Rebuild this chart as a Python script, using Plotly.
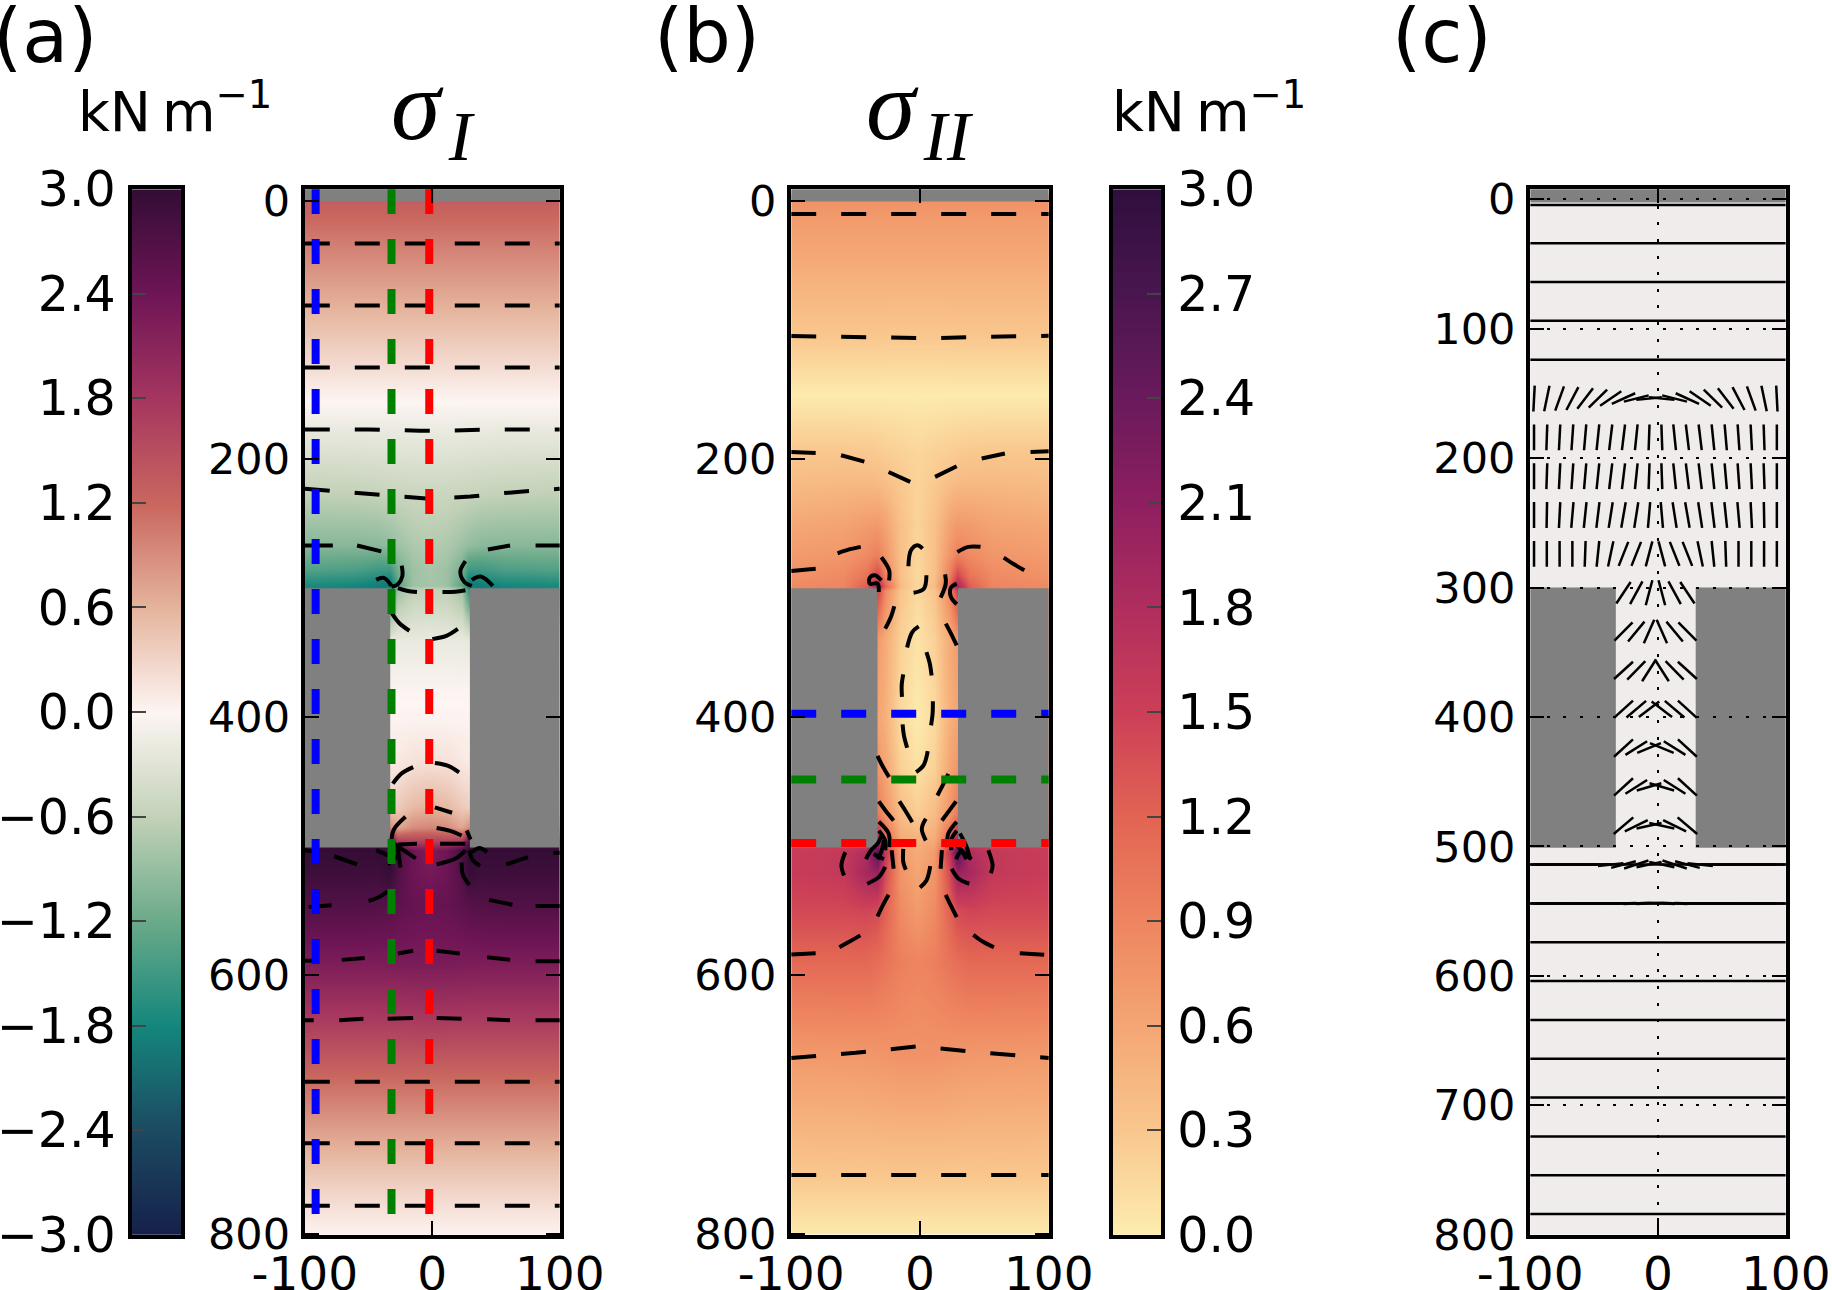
import math
import plotly.graph_objects as go

W, H = 1832, 1290

# ---------- colour scales ----------
curl_levels = [-3.0, -2.4, -1.8, -1.2, -0.6, 0.0, 0.6, 1.2, 1.8, 2.4, 3.0]
curl_colors = ["#16204a", "#1c4a62", "#14877c", "#6aaa8a", "#c3d2b8", "#fdf5f3",
               "#e5b49d", "#c9675f", "#a5365f", "#6f1556", "#340d35"]
matter_levels = [0.0, 0.3, 0.6, 0.9, 1.2, 1.5, 1.8, 2.1, 2.4, 2.7, 3.0]
matter_colors = ["#fdedb0", "#f9c78e", "#f4a673", "#ee8560", "#e26453", "#cc3f57",
                 "#b02e5e", "#8e1f60", "#6a1a5c", "#4a1650", "#2f0f3d"]

# ---------- field samples (half-rows, left wall to the slot centre) ----------
x_half = [-100, -60, -42, -33, -27, -15, -2]
x_other = [11, 23, 29, 38, 56, 100]

sigma1_y = [0, 33, 81, 129, 155, 177, 225, 267, 285, 298, 301, 340, 380, 400, 435, 470,
            485, 497, 503, 520, 545, 590, 635, 682, 730, 778, 800]
sigma1_half = [
    [1.30, 1.30, 1.30, 1.30, 1.30, 1.30, 1.30],
    [1.02, 1.02, 1.02, 1.02, 1.02, 1.02, 1.02],
    [0.62, 0.62, 0.62, 0.62, 0.62, 0.62, 0.62],
    [0.22, 0.22, 0.22, 0.22, 0.22, 0.22, 0.22],
    [0.00, 0.00, 0.00, 0.00, 0.00, 0.00, 0.00],
    [-0.20, -0.20, -0.19, -0.19, -0.18, -0.18, -0.18],
    [-0.60, -0.58, -0.56, -0.54, -0.53, -0.52, -0.52],
    [-1.00, -1.00, -0.98, -0.92, -0.85, -0.74, -0.70],
    [-1.35, -1.40, -1.50, -1.50, -1.10, -0.85, -0.78],
    [-1.75, -1.80, -1.90, -2.00, -1.30, -0.85, -0.80],
    [-1.75, -1.80, -1.90, -1.60, -0.85, -0.62, -0.60],
    [-0.20, -0.20, -0.20, -0.22, -0.20, -0.20, -0.20],
    [-0.02, -0.02, -0.02, -0.02, -0.02, -0.02, -0.02],
    [0.02, 0.02, 0.02, 0.02, 0.02, 0.02, 0.02],
    [0.10, 0.10, 0.10, 0.10, 0.12, 0.18, 0.20],
    [0.40, 0.40, 0.40, 0.35, 0.40, 0.55, 0.60],
    [1.00, 1.00, 1.00, 0.90, 0.70, 0.90, 0.95],
    [2.80, 2.80, 2.80, 2.80, 1.80, 1.70, 1.70],
    [3.00, 3.00, 3.00, 3.00, 2.80, 2.40, 2.25],
    [2.90, 2.90, 2.90, 3.00, 2.70, 2.42, 2.32],
    [2.70, 2.70, 2.68, 2.65, 2.58, 2.50, 2.47],
    [2.25, 2.25, 2.25, 2.26, 2.27, 2.28, 2.28],
    [1.72, 1.72, 1.72, 1.72, 1.72, 1.73, 1.73],
    [1.15, 1.15, 1.15, 1.15, 1.15, 1.15, 1.15],
    [0.65, 0.65, 0.65, 0.65, 0.65, 0.65, 0.65],
    [0.20, 0.20, 0.20, 0.20, 0.20, 0.20, 0.20],
    [0.03, 0.03, 0.03, 0.03, 0.03, 0.03, 0.03],
]

sigma2_y = [0, 10, 60, 105, 150, 195, 217, 250, 275, 290, 299, 302, 340, 400, 440, 475,
            495, 505, 520, 550, 590, 660, 755, 800]
sigma2_half = [
    [0.78, 0.78, 0.78, 0.78, 0.78, 0.78, 0.78],
    [0.72, 0.72, 0.72, 0.72, 0.72, 0.72, 0.72],
    [0.50, 0.50, 0.50, 0.50, 0.50, 0.50, 0.50],
    [0.30, 0.30, 0.30, 0.30, 0.29, 0.29, 0.29],
    [0.02, 0.02, 0.02, 0.02, 0.02, 0.02, 0.02],
    [0.30, 0.30, 0.29, 0.27, 0.25, 0.22, 0.18],
    [0.40, 0.42, 0.42, 0.40, 0.36, 0.28, 0.20],
    [0.58, 0.62, 0.68, 0.70, 0.62, 0.35, 0.20],
    [0.70, 0.74, 0.85, 0.95, 0.75, 0.36, 0.18],
    [0.78, 0.85, 1.05, 1.45, 0.95, 0.35, 0.15],
    [0.85, 0.90, 1.25, 1.90, 1.20, 0.40, 0.17],
    [0.85, 0.90, 1.20, 1.50, 0.85, 0.32, 0.15],
    [0.70, 0.70, 0.70, 0.70, 0.55, 0.22, 0.08],
    [0.60, 0.60, 0.60, 0.60, 0.50, 0.15, 0.02],
    [0.75, 0.75, 0.75, 0.75, 0.60, 0.22, 0.10],
    [1.00, 1.00, 1.00, 1.00, 0.75, 0.40, 0.25],
    [1.50, 1.50, 1.50, 1.90, 1.20, 0.55, 0.50],
    [1.55, 1.60, 1.80, 2.60, 1.60, 0.70, 0.55],
    [1.55, 1.60, 1.90, 2.00, 1.40, 0.75, 0.60],
    [1.42, 1.42, 1.45, 1.40, 1.20, 0.85, 0.70],
    [1.15, 1.15, 1.15, 1.10, 1.05, 0.95, 0.90],
    [0.72, 0.73, 0.74, 0.75, 0.76, 0.78, 0.78],
    [0.30, 0.30, 0.30, 0.30, 0.30, 0.30, 0.30],
    [0.03, 0.03, 0.03, 0.03, 0.03, 0.03, 0.03],
]

# ---------- contour lines ----------
a_long_x = [-100, 100, None, -100, 100, None, -100, 100, None,
            -100, -50, -10, 10, 50, 100, None,
            -100, -60, -30, 0, 30, 60, 100, None,
            -100, 100, None, -100, 100, None, -100, 100]
a_long_y = [33, 33, None, 81, 81, None, 129, 129, None,
            177, 177, 178, 178, 177, 177, None,
            223, 226, 229, 231, 229, 226, 223, None,
            682.4, 682.4, None, 730, 730, None, 778.5, 778.5]
a_piece_x = [-100, -78, None, -59, -40, None, 43.6, 61, None, 81, 100, None,
             -24, -23.5, -27, -32, None, -44, -38, -32, None,
             26, 22, 25, 31, None, 31, 38, 47.5, None,
             -27, -20, -12, None, 8, 18, 26, None, -32, -26, -18, None, 0, 11, 20, None,
             -31, -24, -15, None, 2, 12, 21, None, -32, -30, -21, None, 2, 15.5, None,
             3.4, 14, 23, None, 27, 30, None, -27, -12, None, 6, 26, None,
             -30, -13, None, -27, -25, None, -35, -27, None, -44, -35, None,
             3.4, 18.6, 26, None, 23, 24, 29, None, 29, 32, 37.5, None, 31, 37, 43, None,
             -100, -93, None, -77, -59, None, 58, 75, None, 95, 100, None,
             -97, -79, None, -50, -42, -35, None, 44.5, 62.8, None, 81, 100, None,
             -100, -93, None, -71, -53, None, -27, -15, None, 3.4, 21.6, None, 43, 61, None, 81, 100, None,
             -100, -93, None, -73, -54, None, -35, -15, None, 3.4, 23, None, 43, 61, None, 81, 100]
a_piece_y = [267, 267, None, 267, 271.5, None, 270, 267, None, 267, 267, None,
             282.6, 290.7, 297, 299, None, 293.6, 292, 298.3, None,
             279, 287, 295, 298.3, None, 293.6, 291, 298.3, None,
             300, 302, 303, None, 303, 302.8, 301.6, None, 319, 327, 333, None, 339.5, 337, 331.6, None,
             451.4, 443.5, 438.6, None, 435.4, 437.5, 442.7, None, 494.8, 486.8, 477.2, None, 469.8, 474, None,
             485.8, 488, 491.6, None, 487.8, 494.8, None, 498.7, 498, None, 498, 498, None,
             498, 509.3, None, 501.3, 516.4, None, 514, 507.7, None, 502.9, 507, None,
             514, 509.3, 502.9, None, 512.5, 522, 530, None, 503, 511, 515, None, 504.5, 501.3, 504.5, None,
             503, 504, None, 507.7, 514, None, 514, 508.4, None, 505, 505, None,
             547, 545.6, None, 542.4, 539.5, 535, None, 541.5, 545.3, None, 546.3, 546.3, None,
             588.7, 588.7, None, 588, 586.5, None, 583, 581, None, 581, 583, None, 586, 588, None, 589, 589, None,
             634.7, 634.7, None, 634.7, 633.7, None, 633.7, 633, None, 633, 633.7, None, 634, 634.7, None, 634.7, 634.7]

# ---------- contour lines ----------
b_long_x = [-100, 100, None, -100, -60, -20, 10, 50, 100, None, -100, -50, -2, 50, 100, None, -100, 100]
b_long_y = [10.2, 10.2, None, 104.7, 105.5, 106.3, 106.3, 105.2, 104.5, None, 664, 660, 655, 660, 664, None, 754.6, 754.6]
b_piece_x = [-100, -81, None, -61.3, -43.2, None, -24.4, -7.6, None, 11.7, 28.5, None, 47.9, 65.9, None, 85.8, 100, None,
             -100, -81, None, -64, -55, -46, None, -30, -24, -24, None, 2, -2, -7, -9, None, 5, 3, -5, None,
             19.5, 20, 16, None, 29, 37.5, 47, None, 65, 73, 81, None,
             -32, -33, -39, -39, -35, -30, None, 28.5, 24, 24, 28.5, None,
             -20, -22.6, -27, None, -1, -6, -10, None, 20, 24, 28.5, None, 5, 7.5, 9, None, -13, -14.2, -14, None,
             10, 9.8, 8.6, None, -13.5, -12.5, -10, None, 6, 2.7, -3, None, -33, -29, -24, None, 22, 18, 13.5, None,
             -32, -27, -20.5, None, -16, -11, -6, None, 28, 23, 17, None, 4.5, 1.4, 4.5, None,
             -32, -24.4, -23.6, None, -32, -27, -27, None, 28.5, 22, 21, None, 28.5, 24, 24.4, None,
             -58, -61, -59, None, -22, -20.5, None, -13, -13, -11, None, 8, 5, 0, None, 17, 16, None,
             53, 56.4, 55, None, -27, -32, -41, None, 24.6, 30, 38.3, None, -24.4, -29, -33, None, 20, 24, 28.5, None,
             -62.6, -55, -46.3, None, 41.4, 49, 57.4, None, -100, -81, None, 77.5, 96.4, None,
             -42, -38, -33, -30, None, -33, -30, -28, None, -36, -32, -28, None,
             28, 32, 36, None, 31, 36, 39, None, 28, 33, 40]
b_piece_y = [194.5, 195.2, None, 197, 202, None, 210, 217.7, None, 213.8, 205.6, None, 199.6, 195.7, None, 194.5, 194, None,
             286.7, 284.9, None, 273, 270, 268, None, 276, 286, 294, None, 269.4, 266.8, 270.7, 283, None, 290, 300.4, 303.5, None,
             289.3, 296.5, 307.4, None, 272, 268, 268, None, 276.3, 281.5, 286.2, None,
             303, 296.5, 296.5, 291.9, 290, 294, None, 296.5, 299.6, 306.8, 312.5, None,
             314, 322.3, 331.4, None, 329.6, 334, 346, None, 327.5, 335, 344.3, None, 349.5, 358, 367.6, None, 366.8, 375, 384.3, None,
             387.7, 397, 406.3, None, 405.5, 414, 423.6, None, 426.2, 437.3, 442.5, None, 430, 438, 446.4, None, 443.8, 452, 460.6, None,
             465.2, 472, 480, None, 465.2, 473, 481.3, None, 465.2, 472, 480, None, 478.7, 486.4, 495.5, None,
             481, 490, 500.6, None, 488, 495.5, 503, None, 481, 490, 500.6, None, 488, 495.5, 503, None,
             504.5, 514.8, 522.6, None, 503, 517.4, None, 502, 512.3, 518.2, None, 515.4, 526.5, 532, None, 503, 517.4, None,
             503, 514.8, 520.8, None, 516, 523.9, 529, None, 517.4, 525.2, 529, None, 537.6, 546, 554.4, None, 537.6, 546, 554.9, None,
             578.2, 574, 569, None, 568.6, 574, 578.2, None, 583.8, 582.8, None, 582.8, 584, None,
             510, 503, 498, 492, None, 510, 504, 495, None, 506, 508, 510, None,
             510, 504, 510, None, 490, 500, 510, None, 498, 504, 510]

# ---------- dashed section markers ----------
a_section_x = [-91.5, -32, -2.4]
b_section_y = [397.3, 448.2, 497.5]
section_colors = ["blue", "green", "red"]

# ---------- wall blocks ----------
block_left = [-100, -33]
block_right = [29.5, 100]
block_span = [300, 501]

# ---------- principal direction sticks of panel (c) ----------
stick_centre = -2
stick_columns = [5, 15, 25, 35, 45, 55, 65, 75, 85, 95]
stick_rows = [4.6, 34, 64, 94, 124, 154, 184, 214, 244, 274, 304, 334, 364, 394, 424, 454, 484,
              514, 544, 574, 604, 634, 664, 694, 724, 754, 784]
stick_angles = [
    [0] * 10, [0] * 10, [0] * 10, [0] * 10, [0] * 10,
    [6, 14, 24, 34, 44, 52, 62, 70, 78, 87],
    [88, 84, 83, 83, 84, 85, 86, 87, 88, 90],
    [88, 84, 83, 83, 84, 85, 86, 87, 88, 90],
    [85, 81, 80, 81, 83, 84, 85, 87, 89, 90],
    [75, 68, 68, 78, 84, 88, 90, 90, 90, 90],
    [75, 61, 56], [66, 50, 45], [57, 45, 42], [37, 40, 42], [22, 32, 42], [16, 32, 42], [12, 26, 40],
    [12, 18, 15, 6, 1, 0, 0, 0, 0, 0],
    [3, 3, 2, 1, 0, 0, 0, 0, 0, 0],
    [0] * 10, [0] * 10, [0] * 10, [0] * 10, [0] * 10, [0] * 10, [0] * 10, [0] * 10,
]
stick_length = 20
row_extension = [-100, 100]

# ---------- tick labels ----------
cbar_a_ticks = [-3.0, -2.4, -1.8, -1.2, -0.6, 0.0, 0.6, 1.2, 1.8, 2.4, 3.0]
cbar_a_labels = ["\u22123.0", "\u22122.4", "\u22121.8", "\u22121.2", "\u22120.6", "0.0", "0.6", "1.2", "1.8", "2.4", "3.0"]
cbar_b_ticks = [0.0, 0.3, 0.6, 0.9, 1.2, 1.5, 1.8, 2.1, 2.4, 2.7, 3.0]
cbar_b_labels = ["0.0", "0.3", "0.6", "0.9", "1.2", "1.5", "1.8", "2.1", "2.4", "2.7", "3.0"]
x_ticks = [-100, 0, 100]
x_labels = ["-100", "0", "100"]
y_ticks_ab = [0, 200, 400, 600, 800]
y_ticks_c = [0, 100, 200, 300, 400, 500, 600, 700, 800]

FONT = "DejaVu Sans"
SPINE = 4.4
TOP, BOT = 187.0, 1237.0


def norm_scale(levels, colors):
    lo, hi = levels[0], levels[-1]
    return [[(v - lo) / (hi - lo), c] for v, c in zip(levels, colors)]


def xdom(a, b):
    return [(a + SPINE / 2) / W, (b - SPINE / 2) / W]


ydom = [1 - (BOT - SPINE / 2) / H, 1 - (TOP + SPINE / 2) / H]
curl = norm_scale(curl_levels, curl_colors)
matter = norm_scale(matter_levels, matter_colors)


def mirror_rows(rows):
    return [r + r[-2::-1] for r in rows]


x_nodes = x_half + x_other
fig = go.Figure()
dark = "#808080"


def add_field(xa, ya, ys, rows, cs, zmin):
    fig.add_trace(go.Heatmap(x=x_nodes, y=ys, z=mirror_rows(rows), colorscale=cs, zmin=zmin, zmax=3,
                             zsmooth="best", showscale=False, hoverinfo="skip", xaxis=xa, yaxis=ya))
    for bx in (block_left, block_right):
        fig.add_trace(go.Scatter(x=[bx[0], bx[1], bx[1], bx[0], bx[0]],
                                 y=[block_span[0], block_span[0], block_span[1], block_span[1], block_span[0]],
                                 mode="lines", fill="toself", fillcolor=dark, line=dict(width=0, color=dark),
                                 hoverinfo="skip", showlegend=False, xaxis=xa, yaxis=ya))
    fig.add_trace(go.Scatter(x=[-100, 100, 100, -100, -100], y=[-12, -12, 0.4, 0.4, -12], mode="lines", fill="toself",
                             fillcolor=dark, line=dict(width=0, color=dark), hoverinfo="skip",
                             showlegend=False, xaxis=xa, yaxis=ya))


def add_lines(xa, ya, x, y, dash=None, color="black", width=4.0, shape="linear"):
    fig.add_trace(go.Scatter(x=x, y=y, mode="lines", line=dict(color=color, width=width, dash=dash, shape=shape),
                             connectgaps=False, hoverinfo="skip", showlegend=False, xaxis=xa, yaxis=ya))


# colour bar (a)
fig.add_trace(go.Heatmap(x=[0, 1], y=curl_levels, z=[[v, v] for v in curl_levels], colorscale=curl, zmin=-3, zmax=3,
                         zsmooth="best", showscale=False, hoverinfo="skip", xaxis="x", yaxis="y"))
# panel (a)
add_field("x2", "y2", sigma1_y, sigma1_half, curl, -3)
add_lines("x2", "y2", a_long_x, a_long_y, dash="25px,25px")
add_lines("x2", "y2", a_piece_x, a_piece_y, shape="spline")
for sec_x, col in zip(a_section_x, section_colors):
    add_lines("x2", "y2", [sec_x, sec_x], [-9.3, 785], dash="25px,25px", color=col, width=8)
# panel (b)
add_field("x3", "y3", sigma2_y, sigma2_half, matter, 0)
add_lines("x3", "y3", b_long_x, b_long_y, dash="25px,25px")
add_lines("x3", "y3", b_piece_x, b_piece_y, shape="spline")
for sec_y, col in zip(b_section_y, section_colors):
    add_lines("x3", "y3", [-100, 100], [sec_y, sec_y], dash="25px,25px", color=col, width=8)
# colour bar (b)
fig.add_trace(go.Heatmap(x=[0, 1], y=matter_levels, z=[[v, v] for v in matter_levels], colorscale=matter, zmin=0, zmax=3,
                         zsmooth="best", showscale=False, hoverinfo="skip", xaxis="x4", yaxis="y4"))

# panel (c) sticks
sx, sy = [], []
for row, angles in zip(stick_rows, stick_angles):
    if all(a == 0 for a in angles):
        sx += row_extension + [None]
        sy += [row, row, None]
        continue
    if len(angles) == 10 and angles[-1] == 0:
        sx += row_extension + [None]
        sy += [row, row, None]
    for col, ang in zip(stick_columns, angles):
        dx = stick_length / 2 * math.cos(math.radians(ang))
        dy = stick_length / 2 * math.sin(math.radians(ang))
        sx += [stick_centre - col - dx, stick_centre - col + dx, None, stick_centre + col - dx, stick_centre + col + dx, None]
        sy += [row + dy, row - dy, None, row - dy, row + dy, None]
add_lines("x5", "y5", sx, sy, width=2.5)

common = dict(showline=True, linecolor="black", linewidth=SPINE, mirror="ticks", ticks="inside", ticklen=14,
              tickwidth=1.6, tickcolor="black", zeroline=False, showgrid=False, automargin=False,
              tickfont=dict(family=FONT, size=43, color="black"))
cbar_font = dict(family=FONT, size=49, color="black")


def panel_axes(a, b, yr, ytick, grid=False):
    xa = dict(common, domain=xdom(a, b), range=[-100, 100], tickmode="array", tickvals=x_ticks, ticktext=x_labels,
              tickfont=dict(family=FONT, size=47, color="black"), ticklabelstandoff=-5)
    ya = dict(common, domain=ydom, range=yr, tickmode="array", tickvals=ytick, ticktext=[str(v) for v in ytick],
              ticklabelstandoff=2)
    if grid:
        g = dict(showgrid=True, gridcolor="black", gridwidth=1.5, griddash="3px,13.6px")
        xa.update(g)
        ya.update(g)
    return xa, ya


xa2, ya2 = panel_axes(302.6, 562, [801, -9.1], y_ticks_ab)
xa3, ya3 = panel_axes(789, 1051, [801, -9.1], y_ticks_ab)
xa5, ya5 = panel_axes(1528, 1788, [800, -7.7], y_ticks_c, grid=True)
xa2["anchor"], ya2["anchor"] = "y2", "x2"
xa3["anchor"], ya3["anchor"] = "y3", "x3"
xa5["anchor"], ya5["anchor"] = "y5", "x5"

cb_common = dict(showline=True, linecolor="black", linewidth=SPINE, mirror=True, zeroline=False, showgrid=False, automargin=False)
layout = dict(
    template="none",
    width=W, height=H, margin=dict(l=0, r=0, t=0, b=0, pad=0), autosize=False,
    paper_bgcolor="white", plot_bgcolor="white", showlegend=False,
    xaxis=dict(cb_common, domain=xdom(129.5, 183.5), range=[0, 1], showticklabels=False, ticks="", anchor="y"),
    yaxis=dict(cb_common, domain=ydom, range=[-3, 3], anchor="x", side="left", ticks="inside", ticklen=14, tickwidth=1.6,
               tickmode="array", tickvals=cbar_a_ticks, ticktext=cbar_a_labels, tickfont=cbar_font, ticklabelstandoff=2),
    xaxis2=xa2, yaxis2=ya2, xaxis3=xa3, yaxis3=ya3,
    xaxis4=dict(cb_common, domain=xdom(1110.5, 1163.5), range=[0, 1], showticklabels=False, ticks="", anchor="y4"),
    yaxis4=dict(cb_common, domain=ydom, range=[0, 3], anchor="x4", side="right", ticks="inside", ticklen=14, tickwidth=1.6,
                tickmode="array", tickvals=cbar_b_ticks, ticktext=cbar_b_labels, tickfont=cbar_font, ticklabelstandoff=2),
    xaxis5=xa5, yaxis5=ya5,
    shapes=[
        dict(type="rect", xref="x5", yref="y5", x0=-100, x1=100, y0=2.5, y1=800, fillcolor="#efeceb", line=dict(width=0), layer="below"),
        dict(type="rect", xref="x5", yref="y5", x0=-100, x1=100, y0=-8, y1=2.5, fillcolor=dark, line=dict(width=0), layer="below"),
        dict(type="rect", xref="x5", yref="y5", x0=block_left[0], x1=block_left[1], y0=block_span[0], y1=block_span[1], fillcolor=dark, line=dict(width=0), layer="below"),
        dict(type="rect", xref="x5", yref="y5", x0=block_right[0], x1=block_right[1], y0=block_span[0], y1=block_span[1], fillcolor=dark, line=dict(width=0), layer="below"),
    ],
)
fig.update_layout(**layout)


def note(x, y, text, size, family=FONT, anchor="left"):
    fig.add_annotation(x=x / W, y=1 - y / H, xref="paper", yref="paper", text=text, showarrow=False,
                       font=dict(family=family, size=size, color="black"), xanchor=anchor, yanchor="middle",
                       align="left", borderpad=0, borderwidth=0)


note(-7, 36, "(a)", 75)
note(654, 36, "(b)", 75)
note(1392, 36, "(c)", 75)
note(78, 108, "kN\u2009m<sup>\u22121</sup>", 55)
note(1112, 108, "kN\u2009m<sup>\u22121</sup>", 55)
note(433, 112, "<i>\u03c3\u200a<sub>I</sub></i>", 100, family="Liberation Serif", anchor="center")
note(920, 112, "<i>\u03c3\u200a<sub>II</sub></i>", 100, family="Liberation Serif", anchor="center")

fig.write_html("out.html", config={"displayModeBar": False},
               post_script="document.body.style.margin='0';document.body.style.overflow='hidden';")
